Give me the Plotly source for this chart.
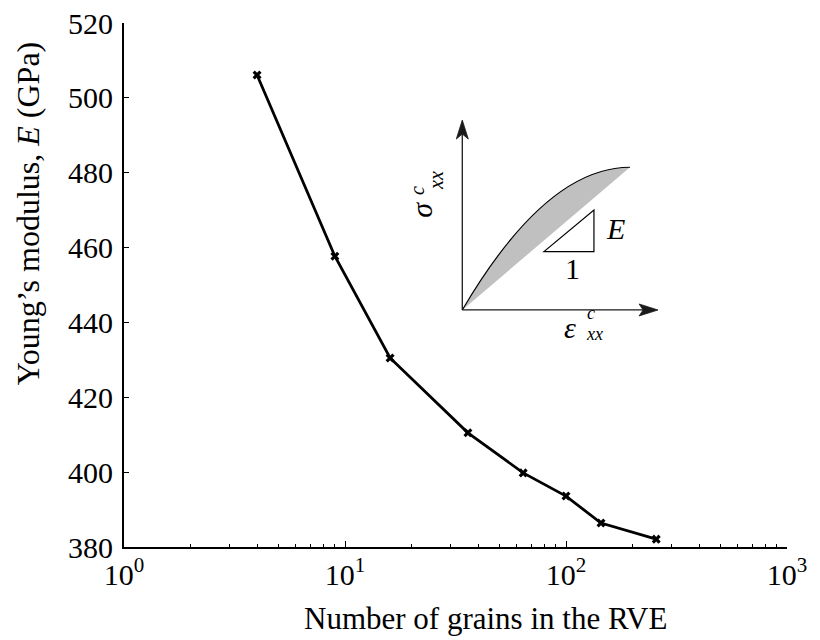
import plotly.graph_objects as go

# Convergence of the effective Young's modulus with RVE size
grains = [4, 9, 16, 36, 64, 100, 144, 256]
youngs_modulus = [506.1, 457.7, 430.5, 410.5, 399.8, 393.6, 386.4, 382.1]

y_ticks = [380, 400, 420, 440, 460, 480, 500, 520]
x_ticks = [1, 10, 100, 1000]
x_tick_labels = ["10<sup>0</sup>", "10<sup>1</sup>", "10<sup>2</sup>", "10<sup>3</sup>"]
x_minor_ticks = [m * 10 ** k for k in range(3) for m in range(2, 10)]

SERIF = "Liberation Serif"
W, H = 820, 640
M = dict(l=124, r=33, t=23, b=93)

fig = go.Figure()
fig.add_trace(go.Scatter(
    x=grains, y=youngs_modulus, mode="lines+markers",
    line=dict(color="black", width=2.8),
    marker=dict(symbol="x", size=8, color="black", line=dict(width=0)),
    showlegend=False, cliponaxis=False, hoverinfo="skip",
))

# Schematic stress-strain inset drawn on its own linear axes:
# origin of the sketch is (0, 0), the end of the loading curve is (1, 1).
ink = "#1a1a1a"
shapes = [
    dict(type="path", xref="x2", yref="y2", path="M 0,0 Q 0.5,1 1,1 Z",
         fillcolor="#c0c0c0", line=dict(width=0), layer="above"),
    dict(type="path", xref="x2", yref="y2", path="M 0,0 Q 0.5,1 1,1",
         line=dict(color="black", width=1.2)),
    dict(type="path", xref="x2", yref="y2",
         path="M 0.487,0.409 L 0.785,0.409 L 0.785,0.701 Z",
         fillcolor="rgba(0,0,0,0)", line=dict(color="black", width=1.2)),
    # strain axis
    dict(type="line", xref="x2", yref="y2", x0=0, y0=0, x1=1.08, y1=0,
         line=dict(color=ink, width=1.3)),
    dict(type="path", xref="x2", yref="y2",
         path="M 1.167,0 L 1.054,0.042 L 1.078,0 L 1.054,-0.042 Z",
         fillcolor=ink, line=dict(color=ink, width=0.8)),
    # stress axis
    dict(type="line", xref="x2", yref="y2", x0=0, y0=0, x1=0, y1=1.235,
         line=dict(color=ink, width=1.3)),
    dict(type="path", xref="x2", yref="y2",
         path="M 0,1.331 L 0.0358,1.198 L 0,1.233 L -0.0358,1.198 Z",
         fillcolor=ink, line=dict(color=ink, width=0.8)),
]


def inset_label(text, u, v, size, angle=0):
    return dict(text=text, x=u, y=v, xref="x2", yref="y2", showarrow=False,
                xanchor="center", yanchor="middle", textangle=angle,
                font=dict(family=SERIF, size=size, color="black"))


annotations = [
    inset_label("<i>σ</i>", -0.241, 0.701, 30, -90),
    inset_label("<i>c</i>", -0.270, 0.834, 20, -90),
    inset_label("<i>xx</i>", -0.157, 0.911, 20, -90),
    inset_label("<i>ε</i>", 0.645, -0.123, 30),
    inset_label("<i>c</i>", 0.767, -0.022, 18),
    inset_label("<i>xx</i>", 0.791, -0.171, 18),
    inset_label("<i>E</i>", 0.914, 0.571, 30),
    inset_label("1", 0.657, 0.294, 30),
    # axis titles
    dict(text="Young’s modulus, <i>E</i> (GPa)", x=-0.1448, y=0.637,
         xref="paper", yref="paper", showarrow=False, textangle=-90,
         xanchor="center", yanchor="middle",
         font=dict(family=SERIF, size=32, color="black")),
    dict(text="Number of grains in the RVE", x=0.5445, y=-0.137,
         xref="paper", yref="paper", showarrow=False,
         xanchor="center", yanchor="middle",
         font=dict(family=SERIF, size=31, color="black")),
]

fig.update_layout(
    template="none",
    width=W, height=H, margin=dict(**M, pad=0, autoexpand=False),
    paper_bgcolor="white", plot_bgcolor="white",
    font=dict(family=SERIF, color="black"),
    xaxis=dict(
        type="log", range=[0, 3], showgrid=False, zeroline=False,
        automargin=False,
        showline=True, linecolor="black", linewidth=2,
        ticks="inside", ticklen=6, tickwidth=1.3, tickcolor="black",
        tickmode="array", tickvals=x_ticks, ticktext=x_tick_labels,
        tickfont=dict(family=SERIF, size=30, color="black"),
        minor=dict(ticks="inside", ticklen=3, tickwidth=1.1, tickcolor="black",
                   tickmode="array", tickvals=x_minor_ticks, showgrid=False),
    ),
    yaxis=dict(
        range=[380, 520], showgrid=False, zeroline=False,
        automargin=False,
        showline=True, linecolor="black", linewidth=2,
        ticks="inside", ticklen=5, tickwidth=1.3, tickcolor="black",
        tickmode="array", tickvals=y_ticks, ticklabelstandoff=3,
        tickfont=dict(family=SERIF, size=30, color="black"),
    ),
    xaxis2=dict(overlaying="x", anchor="y2", range=[-2.017, 1.936],
                visible=False, fixedrange=True),
    yaxis2=dict(overlaying="y", anchor="x2", range=[-1.661, 2.011],
                visible=False, fixedrange=True),
    shapes=shapes,
    annotations=annotations,
)

fig.write_html("out.html")
